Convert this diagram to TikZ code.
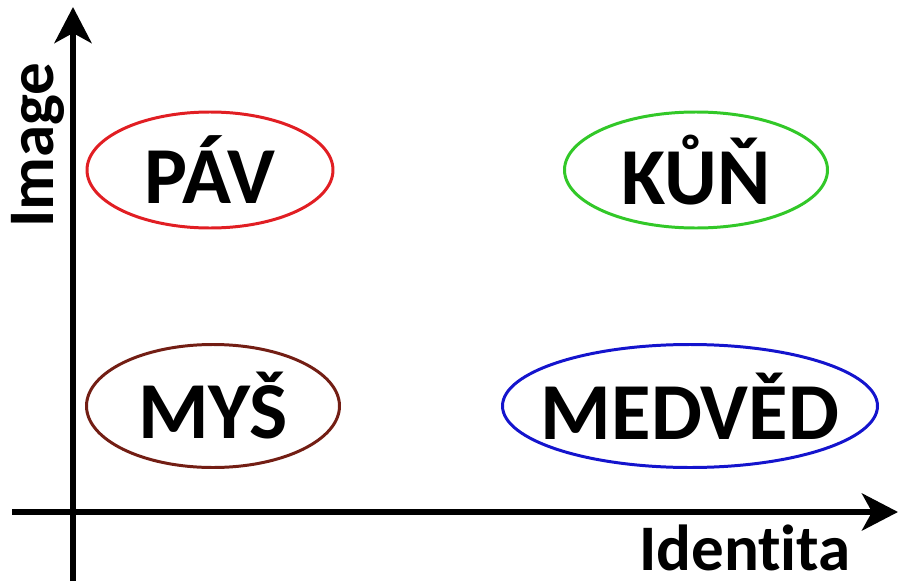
\documentclass[tikz,border=0pt]{standalone}
\usepackage{fontspec}
\setmainfont{Carlito}[Ligatures=NoCommon]
\usepackage{tikz}
\usetikzlibrary{arrows.meta,shapes.geometric}
\definecolor{PavRed}{RGB}{225,30,35}
\definecolor{KunGreen}{RGB}{50,200,40}
\definecolor{MysBrown}{RGB}{115,30,20}
\definecolor{MedBlue}{RGB}{20,20,205}
\tikzset{
	axis/.style={line width=3.4pt, -{Stealth[length=0.72cm, width=0.74cm, inset=0.2cm]}},
	animal/.style={ellipse, draw, line width=1.7pt, inner sep=0pt},
	every label/.style={font=\fontsize{46}{46}\bfseries\selectfont, inner sep=0pt},
	axislabel/.style={font=\fontsize{37}{37}\bfseries\selectfont, text depth=0pt}
}

\begin{document}
\begin{tikzpicture}
				\useasboundingbox (0,0) rectangle (18.12,11.62);

				% axes
				\coordinate (ybot) at (1.46,0);
				\coordinate (ytop) at (1.46,11.48);
				\coordinate (xleft) at (0.24,1.38);
				\coordinate (xright) at (17.96,1.38);
				\draw[axis] (xleft) -- (xright);
				\draw[axis] (ybot) -- (ytop);

				\node[axislabel, rotate=90, anchor=base] (image) at (1.06,8.72) {Image};
				\node[axislabel, anchor=base] (identita) at (14.9,0.22) {Identita};

				% top row
				\node[animal, draw=PavRed, minimum width=4.92cm, minimum height=2.32cm, label=center:PÁV] (pav) at (4.2,8.22) {};
				\node[animal, draw=KunGreen, minimum width=5.26cm, minimum height=2.32cm, label=center:KŮŇ] (kun) at (13.92,8.22) {};

				% bottom row
				\node[animal, draw=MysBrown, minimum width=5.06cm, minimum height=2.46cm, label=center:MYŠ] (mys) at (4.26,3.5) {};
				\node[animal, draw=MedBlue, minimum width=7.5cm, minimum height=2.46cm, label=center:MEDVĚD] (medved) at (13.8,3.5) {};
			\end{tikzpicture}
\end{document}
